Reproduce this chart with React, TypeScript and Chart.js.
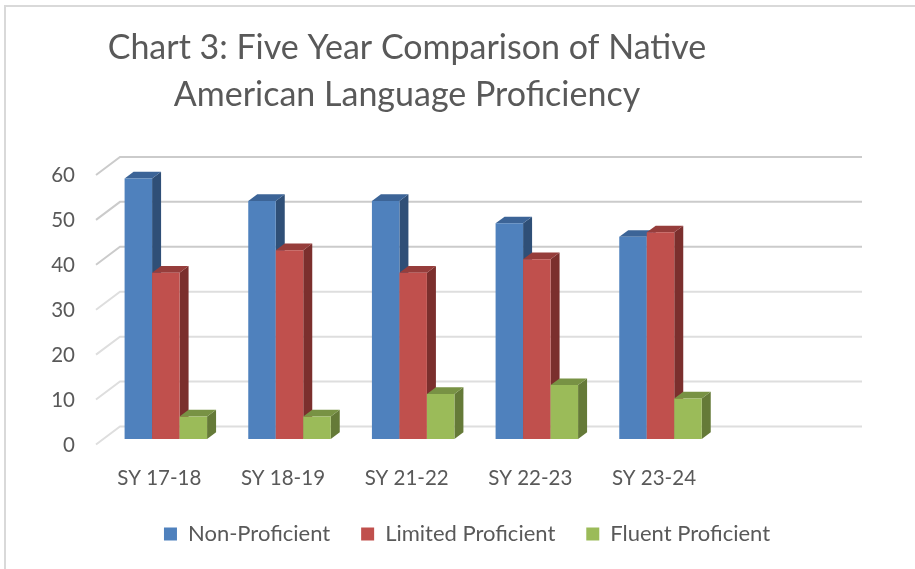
import React, { useEffect, useRef } from "react";
import { Chart, registerables } from "chart.js";

Chart.register(...registerables);

const categories = ["SY 17-18", "SY 18-19", "SY 21-22", "SY 22-23", "SY 23-24", ""];
const nonProficient = [58, 53, 53, 48, 45];
const limitedProficient = [37, 42, 37, 40, 46];
const fluentProficient = [5, 5, 10, 12, 9];
const titleLines = ["Chart 3: Five Year Comparison of Native", "American Language Proficiency"];
const seriesColors = ["#4f81bd", "#c0504d", "#9bbb59"];
const sideColors = ["#2f4f77", "#7b2f2d", "#657a38"];
const topColors = ["#3c6497", "#963d3b", "#789244"];

const DX = 9;
const DY = 6.7;
const BACK_X = 16;
const BACK_Y = -12.5;
const FRONT_X = -8;
const FRONT_Y = 5.5;

const poly = (ctx: CanvasRenderingContext2D, pts: number[][], color: string) => {
  ctx.fillStyle = color;
  ctx.beginPath();
  pts.forEach((p, i) => (i ? ctx.lineTo(p[0], p[1]) : ctx.moveTo(p[0], p[1])));
  ctx.closePath();
  ctx.fill();
};

const frame3d = {
  id: "frame3d",
  beforeDraw(chart: any) {
    const ctx = chart.ctx;
    ctx.save();
    ctx.strokeStyle = "#d9d9d9";
    ctx.lineWidth = 2;
    ctx.beginPath();
    ctx.moveTo(5, 569);
    ctx.lineTo(5, 6);
    ctx.lineTo(915, 6);
    ctx.stroke();
    ctx.restore();
  },
  afterLayout(chart: any) {
    chart.titleBlock.left = 0;
    chart.titleBlock.right = 814;
    chart.legend.left += 44;
    chart.legend.right += 44;
    chart.legend.top += 1;
    chart.legend.bottom += 1;
  },
  beforeDatasetsDraw(chart: any) {
    const ctx = chart.ctx;
    const { x, y } = chart.scales;
    ctx.save();
    y.ticks.forEach((t: any) => {
      const py = y.getPixelForValue(t.value);
      ctx.strokeStyle = t.value >= 40 ? "#cbcbcb" : "#dedede";
      ctx.lineWidth = 2;
      ctx.beginPath();
      ctx.moveTo(x.left + FRONT_X, py + FRONT_Y);
      ctx.lineTo(x.left + BACK_X, py + BACK_Y);
      ctx.lineTo(x.right + BACK_X, py + BACK_Y);
      ctx.stroke();
    });
    for (let i = 0; i < chart.data.datasets.length; i++) {
      const meta = chart.getDatasetMeta(i);
      meta.data.forEach((bar: any) => {
        const p = bar.getProps(["x", "y", "base", "width"], true);
        if (p.y == null || isNaN(p.y)) return;
        const l = p.x - p.width / 2;
        const r = p.x + p.width / 2;
        poly(ctx, [[r, p.y], [r + DX, p.y - DY], [r + DX, p.base - DY], [r, p.base]], sideColors[i]);
        poly(ctx, [[l, p.y], [l + DX, p.y - DY], [r + DX, p.y - DY], [r, p.y]], topColors[i]);
        bar.draw(ctx);
      });
    }
    ctx.restore();
    return false;
  },
};

export default function App() {
  const ref = useRef<HTMLCanvasElement>(null);
  useEffect(() => {
    const chart = new Chart(ref.current as HTMLCanvasElement, {
      type: "bar",
      data: {
        labels: categories,
        datasets: [
          { label: "Non-Proficient", data: nonProficient, backgroundColor: seriesColors[0] },
          { label: "Limited Proficient", data: limitedProficient, backgroundColor: seriesColors[1] },
          { label: "Fluent Proficient", data: fluentProficient, backgroundColor: seriesColors[2] },
        ],
      },
      plugins: [frame3d],
      options: {
        responsive: false,
        animation: false,
        datasets: { bar: { categoryPercentage: 0.667, barPercentage: 1 } },
        layout: { padding: { left: 0, right: 69, top: 0, bottom: 15 } },
        plugins: {
          tooltip: { enabled: false },
          title: {
            display: true,
            text: titleLines,
            color: "#595959",
            font: { family: "Lato", size: 34, weight: "normal", lineHeight: 1.38 },
            padding: { top: 25, bottom: 50.6 },
          },
          legend: {
            position: "bottom",
            labels: {
              color: "#595959",
              font: { family: "Lato", size: 22 },
              boxWidth: 13,
              boxHeight: 13,
              padding: 31,
            },
          },
        },
        scales: {
          x: {
            grid: { display: false },
            border: { display: false },
            afterFit: (s: any) => { s.height = 52; },
            ticks: {
              color: "#595959",
              font: { family: "Lato", size: 20.5 },
              autoSkip: false,
              maxRotation: 0,
              labelOffset: -6.5,
              padding: 19.5,
            },
          },
          y: {
            min: 0,
            max: 60,
            grid: { display: false },
            border: { display: false },
            afterFit: (s: any) => { s.width = 104; },
            ticks: {
              stepSize: 10,
              color: "#595959",
              font: { family: "Lato", size: 20.5 },
              labelOffset: 6,
              padding: 21,
            },
          },
        },
      },
    } as any);
    return () => chart.destroy();
  }, []);
  return (
    <div style={{ position: "fixed", left: 0, top: 0, width: 915, height: 569, background: "#fff" }}>
      <canvas ref={ref} width={915} height={569} style={{ display: "block" }} />
    </div>
  );
}
